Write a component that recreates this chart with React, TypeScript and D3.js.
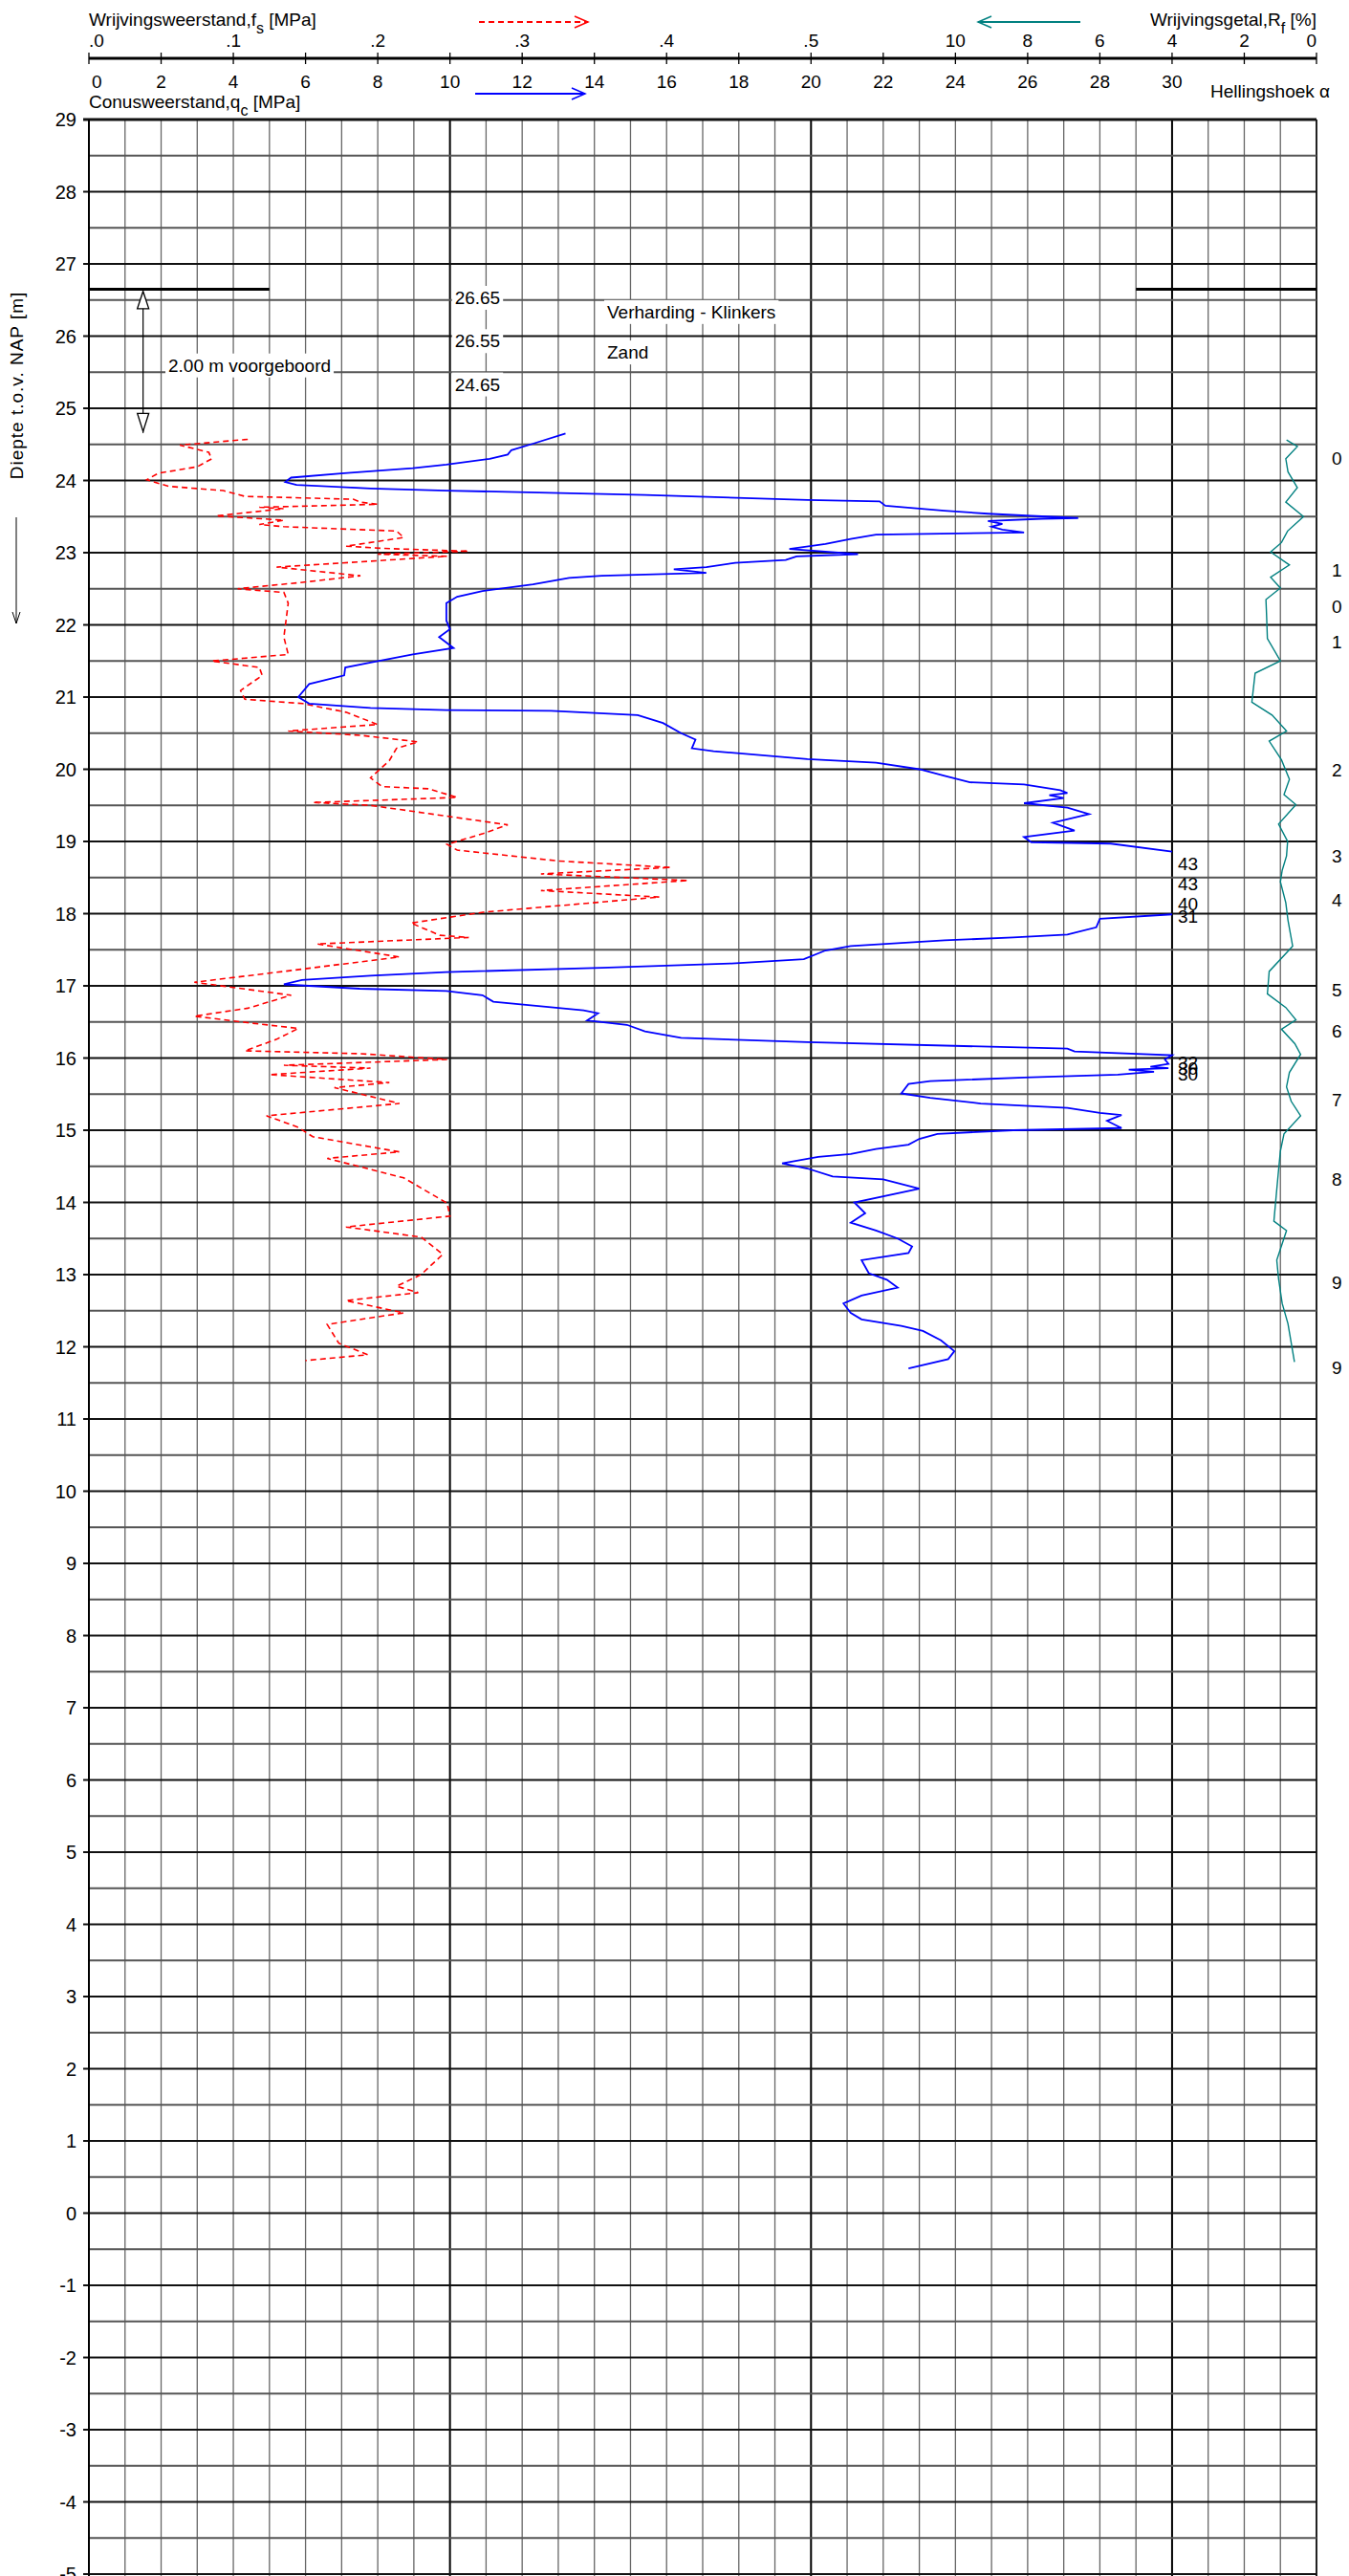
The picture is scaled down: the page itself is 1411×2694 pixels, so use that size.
import React, { useEffect, useRef } from 'react';
import * as d3 from 'd3';

// cone resistance qc [MPa] vs depth [m NAP]
const qcDepth = [24.65, 24.51, 24.42, 24.36, 24.30, 24.22, 24.17, 24.10, 24.04, 23.98, 23.94, 23.89, 23.86, 23.80, 23.73, 23.71, 23.65, 23.58, 23.54, 23.51, 23.48, 23.47, 23.44, 23.40, 23.36, 23.32, 23.28, 23.25, 23.19, 23.12, 23.05, 22.98, 22.95, 22.90, 22.86, 22.80, 22.77, 22.72, 22.68, 22.65, 22.56, 22.47, 22.39, 22.30, 22.06, 21.94, 21.83, 21.68, 21.59, 21.48, 21.41, 21.30, 21.18, 21.00, 20.91, 20.85, 20.82, 20.81, 20.75, 20.64, 20.50, 20.41, 20.29, 20.25, 20.14, 20.09, 20.00, 19.91, 19.82, 19.79, 19.71, 19.67, 19.64, 19.60, 19.53, 19.47, 19.38, 19.26, 19.15, 19.06, 18.99, 18.97, 18.86, 18.40, 17.99, 17.93, 17.81, 17.71, 17.67, 17.63, 17.55, 17.49, 17.37, 17.31, 17.25, 17.19, 17.14, 17.08, 17.02, 16.96, 16.93, 16.87, 16.78, 16.66, 16.62, 16.52, 16.46, 16.37, 16.28, 16.22, 16.13, 16.09, 16.04, 15.98, 15.92, 15.88, 15.86, 15.84, 15.81, 15.77, 15.73, 15.68, 15.64, 15.51, 15.45, 15.37, 15.31, 15.24, 15.21, 15.13, 15.03, 15.00, 14.95, 14.88, 14.80, 14.74, 14.67, 14.63, 14.54, 14.47, 14.36, 14.32, 14.19, 14.00, 13.85, 13.72, 13.61, 13.50, 13.39, 13.30, 13.20, 13.02, 12.93, 12.82, 12.71, 12.60, 12.47, 12.38, 12.29, 12.22, 12.09, 11.94, 11.83, 11.70];
const qcValue = [13.2, 12.3, 11.7, 11.6, 11.1, 9.9, 8.97, 7.07, 5.6, 5.44, 5.75, 7.8, 9.9, 15.4, 19.9, 21.9, 22.06, 23.7, 24.9, 26.1, 27.4, 26.4, 24.9, 25.3, 25.0, 25.3, 25.9, 21.8, 21.1, 20.4, 19.4, 21.3, 19.6, 19.3, 17.9, 17.1, 16.2, 17.1, 14.2, 13.3, 12.3, 10.9, 10.2, 9.9, 9.9, 10.0, 9.7, 10.1, 8.97, 7.8, 7.1, 7.07, 6.1, 5.8, 6.1, 7.8, 9.9, 12.8, 15.2, 15.9, 16.4, 16.8, 16.7, 17.3, 19.9, 21.8, 23.0, 23.7, 24.4, 25.9, 26.9, 27.1, 26.6, 27.0, 25.9, 27.1, 27.7, 26.7, 27.3, 25.9, 26.1, 28.3, 30.0, NaN, 30.0, 28.0, 27.9, 27.1, 25.6, 23.7, 21.1, 20.4, 19.8, 17.8, 14.2, 9.9, 7.8, 5.9, 5.4, 7.5, 9.9, 10.9, 11.2, 13.7, 14.1, 13.8, 14.9, 15.4, 16.4, 19.9, 27.1, 27.3, 30.0, 29.8, 29.9, 29.4, 29.9, 28.8, 29.5, 28.5, 25.9, 23.3, 22.7, 22.5, 23.3, 24.7, 27.1, 28.0, 28.6, 28.2, 28.6, 25.6, 23.5, 23.0, 22.7, 21.8, 21.1, 20.2, 19.2, 19.9, 20.6, 22.0, 23.0, 21.2, 21.5, 21.1, 21.8, 22.4, 22.8, 22.7, 21.4, 21.6, 22.1, 22.4, 21.4, 20.9, 21.1, 21.4, 22.5, 23.1, 23.6, 23.97, 23.8, 22.7];

// sleeve friction fs [MPa] vs depth
const fsDepth = [24.57, 24.49, 24.39, 24.30, 24.19, 24.10, 24.01, 23.92, 23.86, 23.78, 23.74, 23.70, 23.67, 23.63, 23.61, 23.51, 23.45, 23.39, 23.36, 23.30, 23.21, 23.09, 23.06, 23.02, 22.98, 22.95, 22.80, 22.68, 22.59, 22.50, 22.45, 22.30, 21.83, 21.59, 21.50, 21.41, 21.30, 21.09, 20.97, 20.91, 20.79, 20.62, 20.53, 20.47, 20.38, 20.29, 20.12, 19.88, 19.76, 19.73, 19.61, 19.54, 19.50, 19.35, 19.23, 19.11, 18.96, 18.88, 18.73, 18.64, 18.55, 18.46, 18.32, 18.23, 18.02, 17.87, 17.70, 17.67, 17.58, 17.40, 17.20, 17.05, 16.87, 16.69, 16.58, 16.49, 16.41, 16.26, 16.10, 16.06, 15.98, 15.90, 15.86, 15.77, 15.66, 15.59, 15.37, 15.20, 15.04, 14.91, 14.70, 14.61, 14.34, 13.99, 13.81, 13.66, 13.52, 13.28, 13.00, 12.84, 12.75, 12.64, 12.47, 12.31, 12.05, 11.89, 11.81];
const fsValue = [0.110, 0.063, 0.083, 0.085, 0.075, 0.048, 0.040, 0.055, 0.093, 0.108, 0.183, 0.188, 0.200, 0.118, 0.135, 0.088, 0.135, 0.118, 0.135, 0.213, 0.218, 0.178, 0.203, 0.263, 0.200, 0.248, 0.130, 0.188, 0.148, 0.103, 0.135, 0.138, 0.135, 0.138, 0.085, 0.118, 0.120, 0.105, 0.108, 0.148, 0.178, 0.200, 0.138, 0.188, 0.228, 0.213, 0.208, 0.195, 0.203, 0.235, 0.255, 0.155, 0.195, 0.248, 0.290, 0.273, 0.248, 0.255, 0.325, 0.403, 0.313, 0.415, 0.313, 0.395, 0.273, 0.223, 0.243, 0.263, 0.158, 0.215, 0.135, 0.073, 0.140, 0.110, 0.073, 0.110, 0.145, 0.130, 0.108, 0.188, 0.248, 0.135, 0.195, 0.125, 0.208, 0.170, 0.215, 0.123, 0.145, 0.155, 0.215, 0.165, 0.218, 0.248, 0.250, 0.178, 0.230, 0.245, 0.230, 0.213, 0.228, 0.178, 0.218, 0.165, 0.173, 0.193, 0.150];

// friction ratio Rf [%] vs depth
const rfDepth = [24.56, 24.47, 24.30, 24.12, 23.90, 23.70, 23.50, 23.30, 23.14, 23.01, 22.83, 22.66, 22.51, 22.35, 22.10, 21.81, 21.50, 21.33, 20.93, 20.75, 20.53, 20.39, 20.13, 19.86, 19.65, 19.51, 19.24, 19.00, 18.80, 18.60, 18.44, 18.15, 17.91, 17.55, 17.20, 16.89, 16.70, 16.53, 16.40, 16.20, 16.05, 15.80, 15.60, 15.40, 15.20, 14.95, 14.71, 14.45, 14.18, 13.74, 13.61, 13.20, 12.94, 12.60, 12.32, 11.79];
const rfValue = [0.83, 0.53, 0.85, 0.79, 0.53, 0.85, 0.36, 0.80, 0.97, 1.27, 0.75, 1.27, 1.0, 1.4, 1.38, 1.36, 1.0, 1.7, 1.79, 1.23, 0.83, 1.31, 0.97, 0.75, 0.90, 0.57, 1.05, 0.80, 0.83, 0.95, 1.0, 0.85, 0.79, 0.66, 1.31, 1.36, 0.85, 0.57, 0.97, 0.60, 0.44, 0.75, 0.83, 0.70, 0.44, 0.90, 1.0, 1.05, 1.1, 1.18, 0.83, 1.10, 1.05, 0.95, 0.79, 0.61];

// off-scale qc labels
const offLabels = ['43', '43', '40', '31', '32', '30', '30'];
const offDepths = [18.70, 18.42, 18.14, 17.97, 15.94, 15.86, 15.78];

// inclination (Hellingshoek) values
const incLabels = ['0', '1', '0', '1', '2', '3', '4', '5', '6', '7', '8', '9', '9'];
const incDepths = [24.31, 22.76, 22.26, 21.77, 19.99, 18.80, 18.19, 16.95, 16.38, 15.42, 14.32, 12.89, 11.71];

const fsTicks = ['.0', '.1', '.2', '.3', '.4', '.5'];
const rfTicks = [10, 8, 6, 4, 2, 0];
const qcTicks = d3.range(0, 31, 2);

const layerLabels = ['26.65', '26.55', '24.65'];

const W = 1411;
const H = 2694;
const FONT = '"Liberation Sans Narrow", "Liberation Sans", Arial, sans-serif';

export default function App() {
  const ref = useRef<SVGSVGElement>(null);

  useEffect(() => {
    const svg = d3.select(ref.current);
    svg.selectAll('*').remove();

    const x = d3.scaleLinear().domain([0, 34]).range([93, 1377]);
    const y = d3.scaleLinear().domain([29, -5]).range([125, 2692]);
    const xfs = (v: number) => x(v * 40);
    const xrf = (v: number) => x(34 - v);

    svg.append('rect').attr('width', W).attr('height', H).attr('fill', '#fff');

    // grid
    const grid = svg.append('g');
    d3.range(0, 35).forEach(q => {
      const major = q % 10 === 0 && q > 0 && q < 34;
      grid.append('line')
        .attr('x1', x(q)).attr('x2', x(q))
        .attr('y1', y(29)).attr('y2', H)
        .attr('stroke', major ? '#000' : '#666')
        .attr('stroke-width', major ? 2 : 1.3);
    });
    grid.append('line').attr('x1', x(34)).attr('x2', x(34)).attr('y1', y(29)).attr('y2', H)
      .attr('stroke', '#222').attr('stroke-width', 2);
    d3.range(-5, 29.01, 0.5).forEach(dv => {
      const major = Number.isInteger(dv);
      grid.append('line')
        .attr('x1', x(0) - (major ? 6 : 0)).attr('x2', x(34))
        .attr('y1', y(dv)).attr('y2', y(dv))
        .attr('stroke', major ? '#111' : '#555')
        .attr('stroke-width', major ? (dv === 29 ? 3 : 2) : 1.8);
    });
    grid.append('line').attr('x1', x(0)).attr('x2', x(0)).attr('y1', y(29)).attr('y2', H)
      .attr('stroke', '#000').attr('stroke-width', 2);

    // depth labels
    d3.range(-5, 30).forEach(dv => {
      svg.append('text').attr('x', 80).attr('y', y(dv) + 7)
        .attr('text-anchor', 'end').attr('font-family', FONT).attr('font-size', 20)
        .text(String(dv));
    });

    // top axis
    svg.append('line').attr('x1', x(0)).attr('x2', x(34)).attr('y1', 61).attr('y2', 61)
      .attr('stroke', '#000').attr('stroke-width', 3);
    d3.range(0, 35, 2).forEach(q => {
      svg.append('line').attr('x1', x(q)).attr('x2', x(q)).attr('y1', 55).attr('y2', 67)
        .attr('stroke', '#000').attr('stroke-width', 1.3);
    });
    const txt = (t: string, tx: number, ty: number, anchor = 'middle', size = 19, fam = FONT) =>
      svg.append('text').attr('x', tx).attr('y', ty).attr('text-anchor', anchor)
        .attr('font-family', fam).attr('font-size', size).text(t);

    fsTicks.forEach((t, i) => txt(t, i === 0 ? x(0) : xfs(i / 10), 49, i === 0 ? 'start' : 'middle'));
    rfTicks.forEach(v => txt(String(v), xrf(v), 49, v === 0 ? 'end' : 'middle'));
    qcTicks.forEach(v => txt(String(v), v === 0 ? x(0) + 3 : x(v), 92, v === 0 ? 'start' : 'middle'));

    const t1 = txt('Wrijvingsweerstand,f', x(0), 27, 'start');
    t1.append('tspan').attr('dy', 8).attr('font-size', 16).text('s');
    t1.append('tspan').attr('dy', -8).text(' [MPa]');
    const t2 = txt('Conusweerstand,q', x(0), 113, 'start');
    t2.append('tspan').attr('dy', 8).attr('font-size', 16).text('c');
    t2.append('tspan').attr('dy', -8).text(' [MPa]');
    const t3 = txt('Wrijvingsgetal,R', x(34), 27, 'end');
    t3.append('tspan').attr('dy', 8).attr('font-size', 16).text('f');
    t3.append('tspan').attr('dy', -8).text(' [%]');
    txt('Hellingshoek \u03b1', 1266, 102, 'start');

    // header arrows
    const arrow = (x1: number, x2: number, yy: number, color: string, dash?: string) => {
      svg.append('line').attr('x1', x1).attr('x2', x2).attr('y1', yy).attr('y2', yy)
        .attr('stroke', color).attr('stroke-width', 2).attr('stroke-dasharray', dash || null);
      const dir = x2 > x1 ? -1 : 1;
      svg.append('path')
        .attr('d', `M${x2 + dir * 14},${yy - 6} L${x2},${yy} L${x2 + dir * 14},${yy + 6}`)
        .attr('fill', 'none').attr('stroke', color).attr('stroke-width', 1.5);
    };
    arrow(501, 615, 23, '#ff0000', '6,4');
    arrow(1130, 1023, 23, '#008080');
    arrow(497, 612, 98, '#0000ff');

    // y label + arrow
    svg.append('text').attr('transform', `translate(24,403) rotate(-90)`)
      .attr('text-anchor', 'middle').attr('font-family', 'Arial, sans-serif').attr('font-size', 19)
      .attr('letter-spacing', 1).text('Diepte t.o.v. NAP [m]');
    svg.append('line').attr('x1', 17).attr('x2', 17).attr('y1', 541).attr('y2', 652)
      .attr('stroke', '#000').attr('stroke-width', 1);
    svg.append('path').attr('d', 'M13,640 L17,652 L21,640').attr('fill', 'none').attr('stroke', '#000');

    // pre-drilled annotation
    svg.append('line').attr('x1', x(0)).attr('x2', x(5)).attr('y1', y(26.65)).attr('y2', y(26.65))
      .attr('stroke', '#000').attr('stroke-width', 3);
    svg.append('line').attr('x1', x(29)).attr('x2', x(34)).attr('y1', y(26.65)).attr('y2', y(26.65))
      .attr('stroke', '#000').attr('stroke-width', 3);
    const ax = x(1.5);
    svg.append('line').attr('x1', ax).attr('x2', ax).attr('y1', y(26.6)).attr('y2', y(24.66))
      .attr('stroke', '#000').attr('stroke-width', 1.2);
    svg.append('path').attr('d', `M${ax - 6},${y(26.38)} L${ax},${y(26.62)} L${ax + 6},${y(26.38)} Z`)
      .attr('fill', '#fff').attr('stroke', '#000').attr('stroke-width', 1.3);
    svg.append('path').attr('d', `M${ax - 6},${y(24.93)} L${ax},${y(24.68)} L${ax + 6},${y(24.93)} Z`)
      .attr('fill', '#fff').attr('stroke', '#000').attr('stroke-width', 1.3);

    const boxed = (t: string, tx: number, ty: number) => {
      const el = txt(t, tx, ty, 'start');
      const bb = (el.node() as SVGTextElement).getBBox();
      svg.insert('rect', () => el.node() as any)
        .attr('x', bb.x - 3).attr('y', bb.y - 2).attr('width', bb.width + 6).attr('height', bb.height + 4)
        .attr('fill', '#fff');
    };
    boxed('2.00  m voorgeboord', 176, y(25.6) + 7);
    layerLabels.forEach((t, i) => boxed(t, x(10) + 5, y(26.55 - i * 0.6) + 8));
    boxed('Verharding - Klinkers', 635, y(26.34) + 7);
    boxed('Zand', 635, y(25.78) + 7);

    // curves
    const fsLine = d3.line<number>().x(i => xfs(fsValue[i])).y(i => y(fsDepth[i]));
    svg.append('path').attr('d', fsLine(d3.range(fsDepth.length)))
      .attr('fill', 'none').attr('stroke', '#ff0000').attr('stroke-width', 1.6)
      .attr('stroke-dasharray', '6,4');

    const qcLine = d3.line<number>().defined(i => !isNaN(qcValue[i]))
      .x(i => x(qcValue[i])).y(i => y(qcDepth[i]));
    svg.append('path').attr('d', qcLine(d3.range(qcDepth.length)))
      .attr('fill', 'none').attr('stroke', '#0000ff').attr('stroke-width', 1.8);

    const rfLine = d3.line<number>().x(i => xrf(rfValue[i])).y(i => y(rfDepth[i]));
    svg.append('path').attr('d', rfLine(d3.range(rfDepth.length)))
      .attr('fill', 'none').attr('stroke', '#008080').attr('stroke-width', 1.4);

    offLabels.forEach((t, i) => txt(t, x(30) + 6, y(offDepths[i]) + 7, 'start', 19));
    incLabels.forEach((t, i) => txt(t, 1393, y(incDepths[i]) + 7, 'start', 19, 'Arial, sans-serif'));
  }, []);

  return (
    <div style={{ position: 'absolute', left: 0, top: 0 }}>
      <svg ref={ref} width={W} height={H} viewBox={`0 0 ${W} ${H}`} style={{ display: 'block' }} />
    </div>
  );
}
